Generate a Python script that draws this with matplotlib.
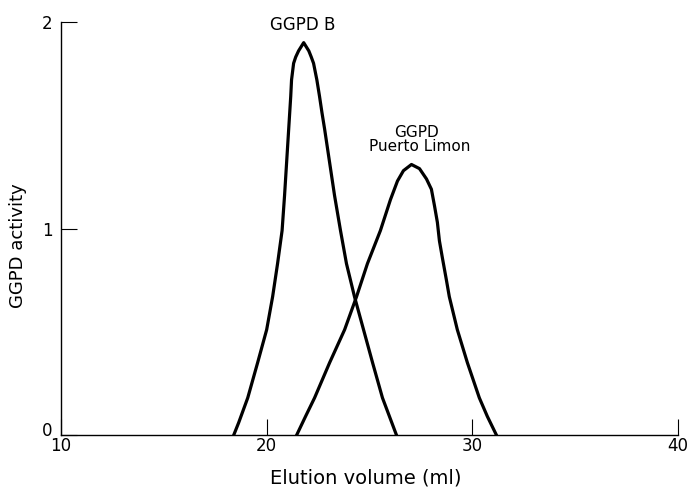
import matplotlib
matplotlib.use("Agg")
import matplotlib.pyplot as plt
import matplotlib.transforms as mtransforms

## Elution profiles of the two GGPD variants

ggpd_b_x = [18.40, 18.64, 19.08, 19.56, 20.00, 20.29, 20.53, 20.75, 20.87, 20.97,
            21.07, 21.17, 21.21, 21.31, 21.41, 21.55, 21.80, 22.05, 22.17, 22.28,
            22.44, 22.57, 22.69, 22.82, 23.06, 23.30, 23.59, 23.88, 24.27, 24.71,
            25.15, 25.63, 26.31]
ggpd_b_y = [0.00, 0.06, 0.18, 0.35, 0.51, 0.67, 0.83, 0.99, 1.16, 1.32,
            1.48, 1.64, 1.72, 1.80, 1.83, 1.86, 1.90, 1.86, 1.83, 1.80,
            1.72, 1.64, 1.56, 1.48, 1.32, 1.16, 0.99, 0.83, 0.67, 0.51,
            0.35, 0.18, 0.00]

limon_x = [21.46, 21.89, 22.33, 23.06, 23.79, 24.37, 24.90, 25.53, 26.02, 26.36,
           26.65, 27.04, 27.43, 27.77, 28.01, 28.16, 28.30, 28.40, 28.54, 28.74,
           28.88, 29.27, 29.76, 30.34, 30.73, 31.17]
limon_y = [0.00, 0.09, 0.18, 0.35, 0.51, 0.67, 0.83, 0.99, 1.14, 1.23,
           1.28, 1.31, 1.29, 1.24, 1.19, 1.11, 1.03, 0.94, 0.86, 0.75,
           0.67, 0.51, 0.35, 0.18, 0.09, 0.00]

x_ticks = [10, 20, 30, 40]
y_ticks = [0, 1, 2]

fig = plt.figure(figsize=(6.88, 4.88), dpi=100)
ax = fig.add_axes([61/688, 53/488, 617/688, 413/488])

ax.plot(ggpd_b_x, ggpd_b_y, color='black', lw=2.3, solid_joinstyle='round')
ax.plot(limon_x, limon_y, color='black', lw=2.3, solid_joinstyle='round')

ax.text(21.77, 1.984, 'GGPD B', ha='center', va='center', fontsize=12)
ax.text(27.28, 1.466, 'GGPD', ha='center', va='center', fontsize=11)
ax.text(27.43, 1.398, 'Puerto Limon', ha='center', va='center', fontsize=11)

ax.set_xlim(10, 40)
ax.set_ylim(0, 2)
ax.set_xticks(x_ticks)
ax.set_yticks(y_ticks)
ax.spines['top'].set_visible(False)
ax.spines['right'].set_visible(False)
for s in ['left', 'bottom']:
    ax.spines[s].set_linewidth(1.0)
ax.tick_params(direction='in', length=11.5, width=0.8, labelsize=12)
ax.tick_params(axis='x', pad=1.5)
ax.tick_params(axis='y', pad=6)

# the "0" sits a bit higher in the original, clear of the "10"
lab0 = ax.yaxis.get_major_ticks()[0].label1
lab0.set_transform(lab0.get_transform() + mtransforms.ScaledTranslation(0, 4/72, fig.dpi_scale_trans))

ax.set_xlabel('Elution volume (ml)', fontsize=14)
ax.set_ylabel('GGPD activity', fontsize=13)
ax.xaxis.set_label_coords(0.494, -0.080)
ax.yaxis.set_label_coords(-0.055, 0.458)

plt.savefig('out.png', dpi=100)
